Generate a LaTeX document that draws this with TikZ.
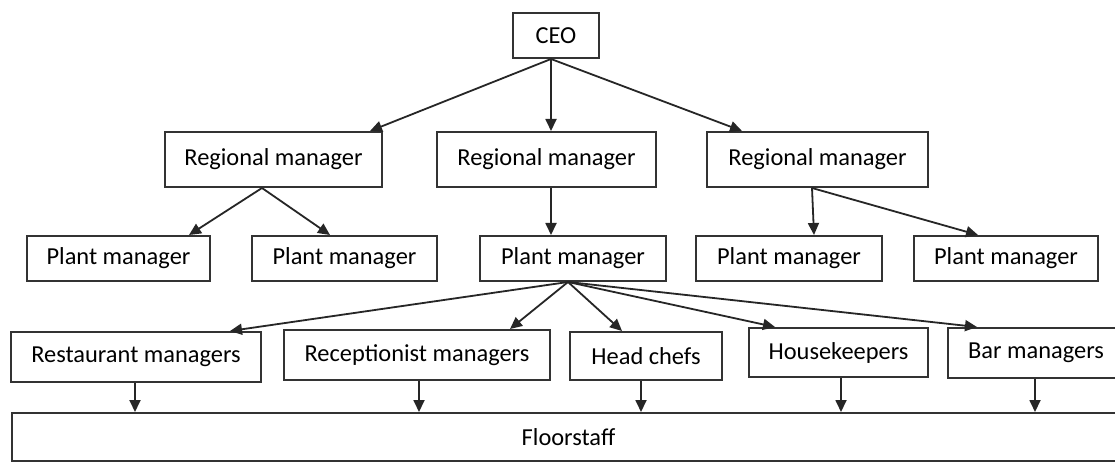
\documentclass[tikz,border=0pt]{standalone}
\usepackage{fontspec}
\setmainfont{Carlito}
\usepackage{tikz}
\usetikzlibrary{arrows.meta}

\tikzset{
	box/.style={draw=black!80, line width=2pt, inner sep=0pt, font=\fontsize{24.4pt}{29pt}\selectfont},
	arr/.style={draw=black!85, line width=1.8pt, -{Triangle[length=12pt,width=11pt]}}
}

\begin{document}
\begin{tikzpicture}[x=1pt,y=-1pt]

\clip (0,0) rectangle (1115,462);
\fill[white] (0,0) rectangle (1115,462);

% top
\node[box, minimum width=86pt, minimum height=45pt] (ceo) at (556,35.5) {CEO};

% regional managers
\node[box, minimum width=217pt, minimum height=55pt] (rm1) at (273.5,159.5) {Regional manager};
\node[box, minimum width=219pt, minimum height=55pt] (rm2) at (546.5,159.5) {Regional manager};
\node[box, minimum width=221pt, minimum height=55pt] (rm3) at (817.5,159.5) {Regional manager};

% plant managers
\node[box, minimum width=183pt, minimum height=45pt] (pm1) at (118.5,258.5) {Plant manager};
\node[box, minimum width=185pt, minimum height=45pt] (pm2) at (344.5,258.5) {Plant manager};
\node[box, minimum width=186pt, minimum height=45pt] (pm3) at (573,258.5) {Plant manager};
\node[box, minimum width=186pt, minimum height=45pt] (pm4) at (789,258.5) {Plant manager};
\node[box, minimum width=184pt, minimum height=45pt] (pm5) at (1006,258.5) {Plant manager};

% departments
\node[box, minimum width=250pt, minimum height=50pt] (rest) at (136,357) {Restaurant managers};
\node[box, minimum width=266pt, minimum height=50pt] (recp) at (417,355) {Receptionist managers};
\node[box, minimum width=152pt, minimum height=48pt] (chef) at (646,356) {Head chefs};
\node[box, minimum width=179pt, minimum height=49pt] (house) at (838.5,352.5) {Housekeepers};
\node[box, minimum width=176pt, minimum height=50pt] (bar) at (1036,353) {Bar managers};

% bottom
\node[box, minimum width=1113pt, minimum height=48pt] (floor) at (568.5,437) {Floorstaff};

\draw[arr] ([xshift=-5pt]ceo.south) -- ([xshift=96.5pt]rm1.north);
\draw[arr] ([xshift=-5pt]ceo.south) -- ([xshift=4.5pt]rm2.north);
\draw[arr] ([xshift=-5pt]ceo.south) -- ([xshift=-75.5pt]rm3.north);

\draw[arr] ([xshift=-11.5pt]rm1.south) -- ([xshift=70.5pt]pm1.north);
\draw[arr] ([xshift=-11.5pt]rm1.south) -- ([xshift=-14.5pt]pm2.north);
\draw[arr] ([xshift=4.5pt]rm2.south) -- ([xshift=-22pt]pm3.north);
\draw[arr] ([xshift=-5.5pt]rm3.south) -- ([xshift=25pt]pm4.north);
\draw[arr] ([xshift=-5.5pt]rm3.south) -- ([xshift=-28pt]pm5.north);

\draw[arr] ([xshift=-5pt]pm3.south) -- ([xshift=94pt]rest.north);
\draw[arr] ([xshift=-5pt]pm3.south) -- ([xshift=93pt]recp.north);
\draw[arr] ([xshift=-5pt]pm3.south) -- ([xshift=-24pt]chef.north);
\draw[arr] ([xshift=-5pt]pm3.south) -- ([xshift=-63.5pt]house.north);
\draw[arr] ([xshift=-5pt]pm3.south) -- ([xshift=-59pt]bar.north);

\draw[arr] ([xshift=-1pt]rest.south) -- ([xshift=-1pt]rest.south |- floor.north);
\draw[arr] ([xshift=2pt]recp.south) -- ([xshift=2pt]recp.south |- floor.north);
\draw[arr] ([xshift=-5pt]chef.south) -- ([xshift=-5pt]chef.south |- floor.north);
\draw[arr] ([xshift=2.5pt]house.south) -- ([xshift=2.5pt]house.south |- floor.north);
\draw[arr] ([xshift=-1pt]bar.south) -- ([xshift=-1pt]bar.south |- floor.north);

\end{tikzpicture}
\end{document}
